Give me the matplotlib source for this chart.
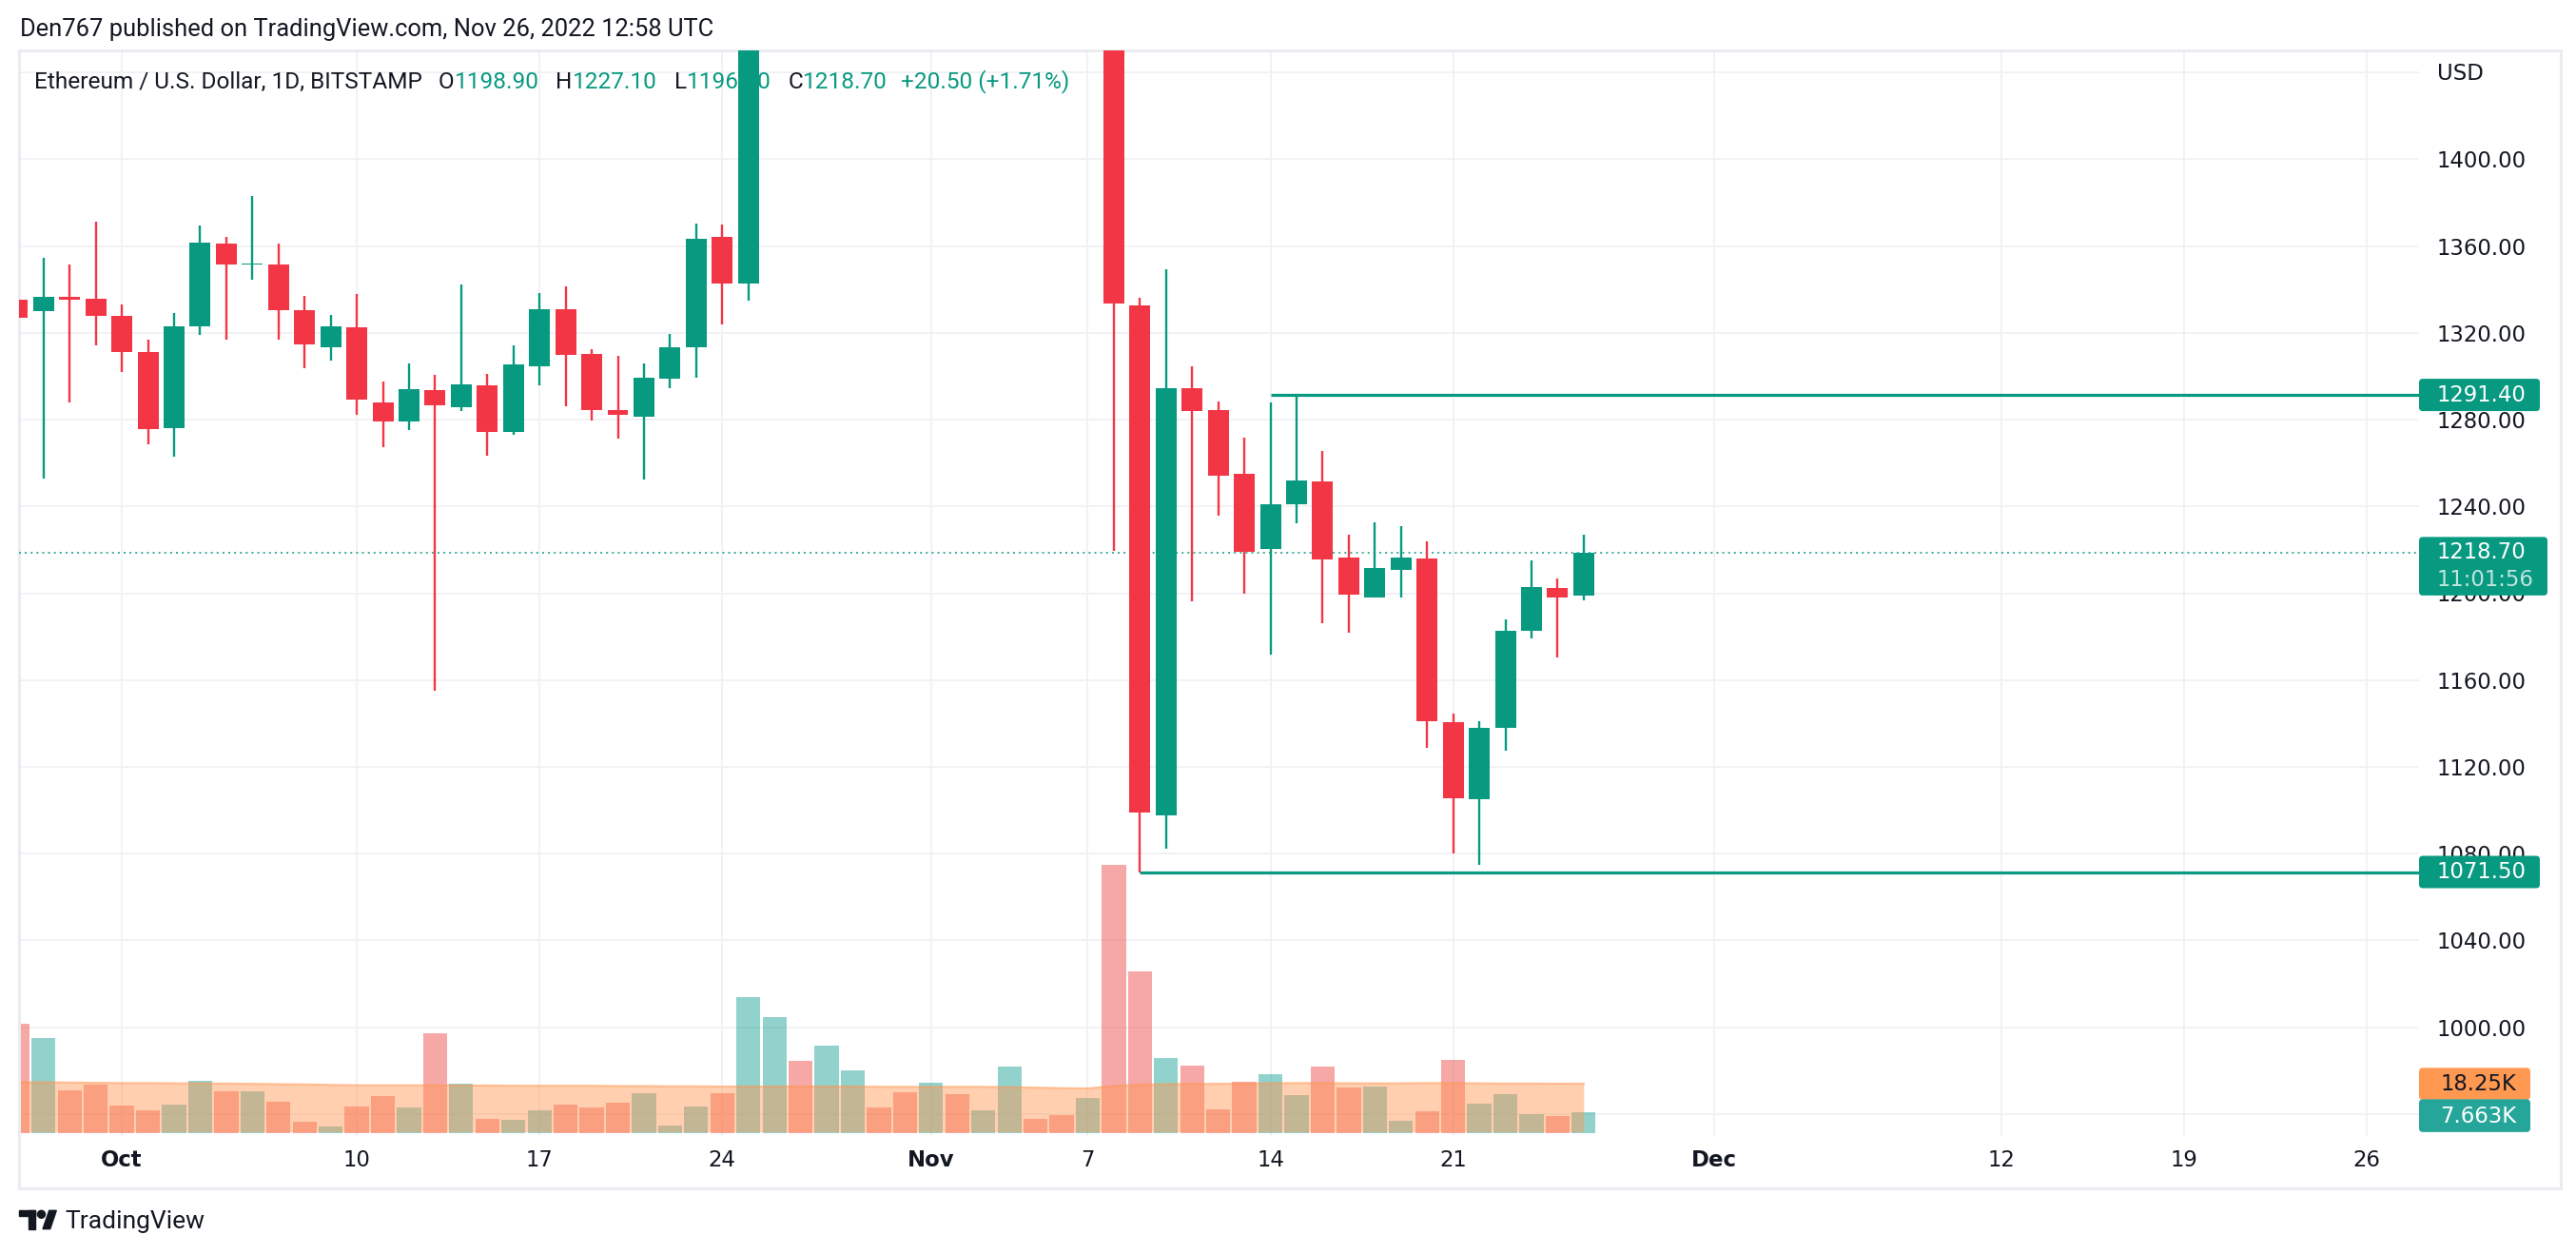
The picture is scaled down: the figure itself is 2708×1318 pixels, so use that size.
import matplotlib
matplotlib.use("Agg")
import matplotlib.pyplot as plt
import matplotlib.dates as mdates
from matplotlib.patches import Rectangle, FancyBboxPatch, Polygon, Circle
from matplotlib.lines import Line2D
from matplotlib.transforms import IdentityTransform
import numpy as np
import pandas as pd

# ETH/USD daily candles, Sep 27 - Nov 26 2022
dates = pd.date_range("2022-09-27", "2022-11-26", freq="D")
opens = [1335.3, 1330.2, 1336.6, 1335.8, 1327.9, 1311.2, 1276.2, 1323.0, 1361.2, 1351.4,
         1351.5, 1330.6, 1313.5, 1322.6, 1287.9, 1279.3, 1293.6, 1285.9, 1295.8, 1274.5,
         1304.8, 1330.9, 1310.3, 1284.4, 1281.5, 1299.1, 1313.4, 1364.3, 1342.9, 1461.0,
         1566.0, 1514.0, 1556.0, 1620.0, 1589.0, 1572.0, 1579.0, 1519.0, 1531.0, 1645.0,
         1627.0, 1566.0, 1570.0, 1332.7, 1097.5, 1294.7, 1284.6, 1255.1, 1220.2, 1241.0,
         1251.6, 1216.5, 1198.2, 1210.7, 1216.0, 1140.5, 1104.9, 1138.1, 1182.5, 1202.4,
         1198.9]
highs = [1345.0, 1354.6, 1351.5, 1371.3, 1333.1, 1316.9, 1329.2, 1369.5, 1364.3, 1383.1,
         1361.2, 1337.1, 1328.3, 1337.9, 1297.6, 1305.9, 1300.7, 1342.3, 1301.1, 1314.3,
         1338.4, 1341.4, 1312.5, 1309.4, 1305.9, 1319.5, 1370.4, 1369.9, 1465.0, 1592.0,
         1585.0, 1564.0, 1664.0, 1637.0, 1611.0, 1605.0, 1621.0, 1553.0, 1679.0, 1675.0,
         1645.0, 1600.0, 1580.0, 1336.1, 1349.4, 1304.8, 1288.3, 1271.8, 1288.0, 1291.4,
         1265.7, 1226.9, 1232.7, 1230.9, 1224.0, 1144.5, 1141.1, 1188.1, 1215.2, 1206.7,
         1227.1]
lows = [1320.0, 1253.0, 1288.1, 1314.4, 1302.1, 1268.8, 1263.1, 1319.2, 1317.0, 1344.7,
        1317.0, 1303.9, 1307.4, 1282.4, 1267.5, 1275.4, 1155.0, 1284.1, 1263.5, 1273.0,
        1295.8, 1286.3, 1279.8, 1271.4, 1252.6, 1294.5, 1299.5, 1323.9, 1335.0, 1452.0,
        1508.0, 1495.0, 1555.0, 1573.0, 1542.0, 1562.0, 1509.0, 1507.0, 1525.0, 1616.0,
        1562.0, 1555.0, 1219.7, 1071.5, 1082.3, 1196.3, 1235.7, 1199.8, 1171.9, 1232.2,
        1186.0, 1182.0, 1198.2, 1197.9, 1128.8, 1079.9, 1074.6, 1127.2, 1179.3, 1170.5,
        1196.5]
closes = [1327.0, 1336.6, 1335.5, 1328.0, 1311.2, 1275.8, 1323.0, 1361.6, 1351.7, 1352.1,
          1330.6, 1314.8, 1323.0, 1289.4, 1279.3, 1294.1, 1286.8, 1296.3, 1274.5, 1305.5,
          1330.9, 1310.0, 1284.6, 1282.4, 1299.3, 1313.4, 1363.4, 1342.9, 1461.0, 1566.0,
          1514.0, 1556.0, 1620.0, 1589.0, 1572.0, 1579.0, 1519.0, 1531.0, 1645.0, 1627.0,
          1566.0, 1570.0, 1333.5, 1098.8, 1294.7, 1284.0, 1254.3, 1218.9, 1241.0, 1251.9,
          1215.5, 1199.5, 1211.7, 1216.5, 1140.8, 1105.4, 1137.9, 1182.8, 1203.0, 1197.9,
          1218.7]
# volume in thousands of ETH, and its moving average as drawn
volume_k = [40.5, 35.2, 15.8, 17.9, 10.1, 8.4, 10.5, 19.3, 15.4, 15.4,
            11.5, 4.1, 2.4, 9.8, 13.7, 9.4, 37.0, 18.3, 5.2, 4.8,
            8.4, 10.5, 9.4, 11.2, 14.7, 2.7, 9.8, 14.7, 50.4, 43.0,
            26.7, 32.4, 23.2, 9.4, 15.1, 18.6, 14.4, 8.4, 24.6, 5.2,
            6.6, 13.0, 99.7, 60.0, 27.8, 25.0, 8.7, 19.0, 21.8, 14.0,
            24.6, 16.8, 17.2, 4.5, 8.0, 27.1, 10.8, 14.4, 6.9, 6.2,
            7.663]
volume_ma_k = [18.8, 18.8, 18.7, 18.6, 18.5, 18.5, 18.4, 18.4, 18.3, 18.2,
               18.1, 18.0, 17.8, 17.7, 17.7, 17.7, 17.7, 17.6, 17.6, 17.5,
               17.5, 17.5, 17.5, 17.4, 17.4, 17.3, 17.3, 17.2, 17.2, 17.2,
               17.2, 17.2, 17.2, 17.1, 17.1, 17.1, 17.1, 17.1, 17.0, 16.8,
               16.6, 16.5, 17.4, 17.9, 18.1, 18.2, 18.2, 18.3, 18.4, 18.5,
               18.5, 18.4, 18.4, 18.4, 18.5, 18.5, 18.4, 18.3, 18.3, 18.25,
               18.25]

tick_dates = ["2022-10-01", "2022-10-10", "2022-10-17", "2022-10-24", "2022-11-01", "2022-11-07",
              "2022-11-14", "2022-11-21", "2022-12-01", "2022-12-12", "2022-12-19", "2022-12-26"]
tick_labels = ["Oct", "10", "17", "24", "Nov", "7", "14", "21", "Dec", "12", "19", "26"]
month_labels = ["Oct", "Nov", "Dec"]
price_ticks = [1000, 1040, 1080, 1120, 1160, 1200, 1240, 1280, 1320, 1360, 1400]
grid_prices = [960, 1000, 1040, 1080, 1120, 1160, 1200, 1240, 1280, 1320, 1360, 1400, 1440]

resistance = 1291.40
resistance_from = "2022-11-14"
support = 1071.50
support_from = "2022-11-09"
last_price = 1218.70
countdown = "11:01:56"

GREEN = "#089981"
RED = "#F23645"
VOL_UP = "#26A69A"
VOL_DOWN = "#EF5350"
MA_COL = "#FF9650"
TEXT = "#131722"
GRID = "#F0F1F4"

W, H = 2708, 1318
fig = plt.figure(figsize=(W / 100, H / 100), dpi=100, facecolor="white")
plt.rcParams["font.family"] = ["DejaVu Sans"]

# plot area in pixels (top-left origin): x 20..2543, y 53..1194
ax = fig.add_axes([20 / W, (H - 1194) / H, 2523 / W, 1141 / H])
axv = ax.twinx()
ax.set_zorder(axv.get_zorder() + 1)
ax.patch.set_visible(False)

x = mdates.date2num(dates)
o = np.array(opens)
c = np.array(closes)
up = c >= o
candle_col = np.where(up, GREEN, RED)
vol_col = np.where(up, VOL_UP, VOL_DOWN)

x_left = x[0] + 0.06
x_right = x[0] + 92.0

# grid (drawn under the volume so it shows through)
for p in grid_prices:
    axv.add_line(Line2D([0, 1], [p, p], transform=ax.get_yaxis_transform(),
                        color=GRID, lw=1.3, zorder=0.5))
for d in tick_dates:
    axv.axvline(mdates.date2num(pd.Timestamp(d)), color=GRID, lw=1.3, zorder=0.5)

# volume + its average
axv.bar(x, volume_k, width=0.92, color=vol_col, alpha=0.5, linewidth=0, zorder=1)
axv.fill_between(x, 0.35, volume_ma_k, color=MA_COL, alpha=0.45, linewidth=0, zorder=2)
axv.plot(x, volume_ma_k, color=MA_COL, alpha=0.6, lw=1.5, zorder=3)
axv.set_ylim(-1.17, 402.0)
axv.set_yticks([])
axv.tick_params(right=False, labelright=False)
for s in axv.spines.values():
    s.set_visible(False)

# candles
ax.axhline(last_price, color=GREEN, lw=1.1, linestyle=(0, (1.3, 2.7)), zorder=2)
ax.vlines(x, lows, highs, colors=candle_col, lw=1.7, zorder=3)
ax.bar(x, np.abs(c - o), bottom=np.minimum(o, c), width=0.8, color=candle_col,
       linewidth=0, zorder=4)

# drawn levels
ax.hlines(resistance, mdates.date2num(pd.Timestamp(resistance_from)), x_right + 5,
          color=GREEN, lw=2.3, zorder=5)
ax.hlines(support, mdates.date2num(pd.Timestamp(support_from)), x_right + 5,
          color=GREEN, lw=2.3, zorder=5)

ax.set_xlim(x_left, x_right)
ax.set_ylim(949.8, 1450.2)
for s in ax.spines.values():
    s.set_visible(False)

ax.yaxis.tick_right()
ax.set_yticks(price_ticks)
ax.set_yticklabels([f"{p:.2f}" for p in price_ticks])
ax.set_xticks([mdates.date2num(pd.Timestamp(d)) for d in tick_dates])
ax.set_xticklabels(tick_labels)
ax.tick_params(axis="y", length=0, pad=13.7, labelsize=16.4, labelcolor=TEXT)
ax.tick_params(axis="x", length=0, pad=10, labelsize=16.4, labelcolor=TEXT)
for lab in ax.get_xticklabels():
    if lab.get_text() in month_labels:
        lab.set_fontweight("bold")

# header legend (sits under the candles, as in the original)
def chain(pieces, x_px, y_px, size):
    prev = None
    for text, color, gap in pieces:
        if prev is None:
            t = ax.annotate(text, xy=(x_px, y_px), xycoords="figure pixels",
                            ha="left", va="bottom", color=color, fontsize=size,
                            family="Roboto", zorder=1, annotation_clip=False)
        else:
            t = ax.annotate(text, xy=(1, 0), xycoords=prev, xytext=(gap, 0),
                            textcoords="offset pixels", ha="left", va="bottom",
                            color=color, fontsize=size, family="Roboto", zorder=1,
                            annotation_clip=False)
        prev = t

legend_pieces = [
    ("Ethereum / U.S. Dollar, 1D, BITSTAMP", TEXT, 0),
    ("O", TEXT, 17), ("1198.90", GREEN, 0),
    ("H", TEXT, 18), ("1227.10", GREEN, 0),
    ("L", TEXT, 18), ("1196.50", GREEN, 0),
    ("C", TEXT, 18), ("1218.70", GREEN, 0),
    ("+20.50 (+1.71%)", GREEN, 14),
]
chain(legend_pieces, 36, H - 83 - 15, 17.6)

fig.text(21 / W, 1 - 31 / H, "Den767 published on TradingView.com, Nov 26, 2022 12:58 UTC",
         ha="left", va="center", fontsize=18.4, family="Roboto", color=TEXT)

# frame around the chart
fig.add_artist(Rectangle((20, H - 1249), 2672, 1196, transform=IdentityTransform(),
                         fill=False, edgecolor="#EBECF1", lw=2.2))

fig.text(2562, H - 78, "USD", transform=IdentityTransform(), ha="left", va="center",
         fontsize=16.4, color=TEXT)

# price scale labels
xr = ax.bbox.x1

def ypx(axis, v):
    return axis.transData.transform((x[0], v))[1]

def box(y0, h, width, color):
    fig.add_artist(FancyBboxPatch((xr, y0), width, h, boxstyle="round,pad=0,rounding_size=4",
                                  transform=IdentityTransform(), facecolor=color,
                                  edgecolor="none", zorder=5))

for lvl in [resistance, support]:
    yc = ypx(ax, lvl)
    box(yc - 17, 34, 127, GREEN)
    fig.text(2562, yc, f"{lvl:.2f}", transform=IdentityTransform(), ha="left",
             va="center", fontsize=16.4, color="white", zorder=6)

yc = ypx(ax, last_price)
box(yc - 45, 61.5, 135, GREEN)
fig.text(2562, yc, f"{last_price:.2f}", transform=IdentityTransform(), ha="left",
         va="center", fontsize=16.4, color="white", zorder=6)
fig.text(2562, yc - 28.5, countdown, transform=IdentityTransform(), ha="left",
         va="center", fontsize=16.4, color="white", alpha=0.75, zorder=6)

yv = ypx(axv, volume_ma_k[-1])
box(yv - 16.8, 33.5, 117, "#FF9850")
fig.text(2645, yv, f"{volume_ma_k[-1]:.2f}K", transform=IdentityTransform(), ha="right",
         va="center", fontsize=16.4, color=TEXT, zorder=6)
yv2 = yv - 34
box(yv2 - 16.8, 34.5, 117, VOL_UP)
fig.text(2645, yv2, f"{volume_k[-1]:.3f}K", transform=IdentityTransform(), ha="right",
         va="center", fontsize=16.4, color="white", zorder=6)

# TradingView logo
logo = TEXT
fig.add_artist(Rectangle((20, H - 1278.3), 17.3, 6, transform=IdentityTransform(), color=logo))
fig.add_artist(Rectangle((30, H - 1291.7), 7.3, 19.4, transform=IdentityTransform(), color=logo))
fig.add_artist(Circle((43.5, H - 1276.3), 4.0, transform=IdentityTransform(), color=logo))
fig.add_artist(Polygon([(51.7, H - 1272.3), (59.3, H - 1272.3), (52.7, H - 1291.7), (45.0, H - 1291.7)],
                       closed=True, transform=IdentityTransform(), color=logo))
fig.text(68, H - 1291.5, "TradingView", transform=IdentityTransform(), ha="left",
         va="baseline", fontsize=19, family="Roboto", color=logo)

fig.savefig("out.png", dpi=100, facecolor="white")
